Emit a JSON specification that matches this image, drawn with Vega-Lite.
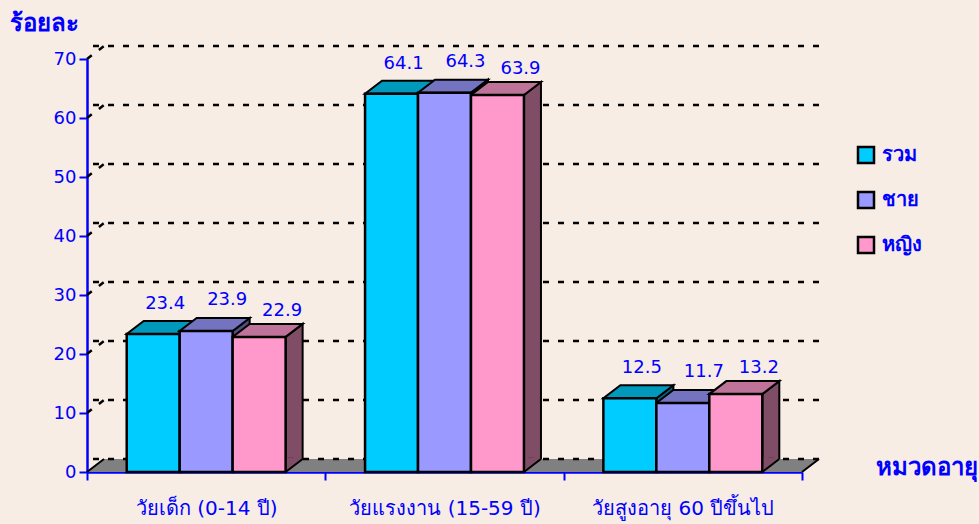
{
  "$schema": "https://vega.github.io/schema/vega-lite/v6.json",
  "width": 715,
  "height": 413,
  "autosize": {"type": "none"},
  "padding": {"left": 87, "top": 59, "right": 177, "bottom": 52},
  "background": "#F7EDE4",
  "config": {
    "view": {"stroke": null},
    "font": "DejaVu Sans",
    "axis": {"labelFont": "DejaVu Sans", "titleFont": "DejaVu Sans"},
    "axisX": {
      "title": "หมวดอายุ",
      "titleAlign": "left",
      "titleBaseline": "middle",
      "titleX": 788,
      "titleY": -5,
      "titleFontSize": 24,
      "titleFontWeight": "bold",
      "titleColor": "#0000FF",
      "labelAngle": 0,
      "labelAlign": "center",
      "labelFontSize": 20,
      "labelColor": "#0000FF",
      "labelPadding": 18,
      "labelLimit": 400,
      "tickBand": "extent",
      "tickSize": 8,
      "tickWidth": 2,
      "tickColor": "#0000FF",
      "domainColor": "#0000FF",
      "domainWidth": 2.5,
      "grid": false
    }
  },
  "datasets": {
    "bars": [
      {"group": "วัยเด็ก (0-14 ปี)", "sex": "รวม", "value": 23.4},
      {"group": "วัยเด็ก (0-14 ปี)", "sex": "ชาย", "value": 23.9},
      {"group": "วัยเด็ก (0-14 ปี)", "sex": "หญิง", "value": 22.9},
      {"group": "วัยแรงงาน (15-59 ปี)", "sex": "รวม", "value": 64.1},
      {"group": "วัยแรงงาน (15-59 ปี)", "sex": "ชาย", "value": 64.3},
      {"group": "วัยแรงงาน (15-59 ปี)", "sex": "หญิง", "value": 63.9},
      {"group": "วัยสูงอายุ 60 ปีขึ้นไป", "sex": "รวม", "value": 12.5},
      {"group": "วัยสูงอายุ 60 ปีขึ้นไป", "sex": "ชาย", "value": 11.7},
      {"group": "วัยสูงอายุ 60 ปีขึ้นไป", "sex": "หญิง", "value": 13.2}
    ],
    "grid": [{"v": 10}, {"v": 20}, {"v": 30}, {"v": 40}, {"v": 50}, {"v": 60}, {"v": 70}]
  },
  "encoding": {
    "y": {
      "type": "quantitative",
      "scale": {"domain": [0, 70], "nice": false, "zero": true},
      "axis": {
        "title": "ร้อยละ",
        "titleAngle": 0,
        "titleAlign": "left",
        "titleBaseline": "middle",
        "titleX": -78,
        "titleY": -36,
        "titleFontSize": 24,
        "titleFontWeight": "bold",
        "titleColor": "#0000FF",
        "values": [0, 10, 20, 30, 40, 50, 60, 70],
        "labelFontSize": 18,
        "labelColor": "#0000FF",
        "labelPadding": 3,
        "tickSize": 8,
        "tickWidth": 2,
        "tickColor": "#0000FF",
        "domainColor": "#0000FF",
        "domainWidth": 2.5,
        "grid": false
      }
    }
  },
  "layer": [
    {
      "data": {"name": "grid"},
      "mark": {
        "type": "rule",
        "color": "#000000",
        "strokeWidth": 2.5,
        "strokeDash": [6, 9],
        "xOffset": 17,
        "x2Offset": 17,
        "yOffset": -13
      },
      "encoding": {"y": {"field": "v", "type": "quantitative"}}
    },
    {
      "data": {"name": "grid"},
      "mark": {
        "type": "point",
        "shape": "M-357.5,0 L-340.5,-13",
        "size": 4,
        "filled": false,
        "stroke": "#000000",
        "strokeWidth": 2.5,
        "strokeDash": [6, 9],
        "opacity": 1
      },
      "encoding": {"y": {"field": "v", "type": "quantitative"}}
    },
    {
      "data": {"name": "bars"},
      "layer": [
        {
          "mark": {
            "type": "point",
            "shape": "M26.5,0 L43.5,-13 L43.5,600 L26.5,600 Z",
            "size": 4,
            "filled": true,
            "stroke": "#000000",
            "strokeWidth": 2,
            "opacity": 1,
            "clip": true
          },
          "encoding": {
            "y": {"field": "value", "type": "quantitative"},
            "fill": {
              "field": "sex",
              "type": "nominal",
              "scale": {"domain": ["รวม", "ชาย", "หญิง"], "range": ["#006680", "#4D4D80", "#804D66"]},
              "legend": null
            }
          }
        }
      ],
      "encoding": {
        "x": {"field": "group", "type": "nominal", "sort": null, "scale": {"paddingInner": 0, "paddingOuter": 0}, "axis": {"title": "หมวดอายุ"}},
        "xOffset": {"field": "sex", "type": "nominal", "sort": ["รวม", "ชาย", "หญิง"], "scale": {"paddingInner": 0, "paddingOuter": 0.75}}
      }
    },
    {
      "data": {"values": [{"z": 0}]},
      "layer": [
        {
          "mark": {
            "type": "point",
            "shape": "M-357.5,0 L357.5,0 L374.5,-13 L-340.5,-13 Z",
            "size": 4,
            "filled": true,
            "fill": "#808080",
            "strokeWidth": 0,
            "opacity": 1
          },
          "encoding": {"y": {"field": "z", "type": "quantitative"}}
        },
        {
          "mark": {
            "type": "point",
            "shape": "M-357.5,0 L-340.5,-13 M357.5,0 L374.5,-13",
            "size": 4,
            "filled": false,
            "stroke": "#000000",
            "strokeWidth": 2,
            "opacity": 1
          },
          "encoding": {"y": {"field": "z", "type": "quantitative"}}
        },
        {
          "mark": {
            "type": "rule",
            "color": "#000000",
            "strokeWidth": 2.5,
            "strokeDash": [6, 9],
            "xOffset": 17,
            "x2Offset": 17,
            "yOffset": -13
          },
          "encoding": {"y": {"field": "z", "type": "quantitative"}}
        }
      ]
    },
    {
      "data": {"name": "bars"},
      "layer": [
        {
          "mark": {
            "type": "point",
            "shape": "M25,1 L25,-14.5 L42.5,-14.5 L42.5,-13 L26.5,0 Z",
            "size": 4,
            "filled": true,
            "strokeWidth": 0,
            "opacity": 1
          },
          "encoding": {
            "y": {"datum": 0},
            "fill": {
              "field": "sex",
              "type": "nominal",
              "scale": {"domain": ["รวม", "ชาย", "หญิง"], "range": ["#006680", "#4D4D80", "#804D66"]},
              "legend": null
            }
          }
        },
        {
          "mark": {
            "type": "point",
            "shape": "M26.5,0 L43.5,-13",
            "size": 4,
            "filled": false,
            "stroke": "#000000",
            "strokeWidth": 2,
            "opacity": 1
          },
          "encoding": {"y": {"datum": 0}}
        },
        {
          "mark": {
            "type": "point",
            "shape": "M-26.5,0 L26.5,0 L43.5,-13 L-9.5,-13 Z",
            "size": 4,
            "filled": true,
            "stroke": "#000000",
            "strokeWidth": 2,
            "opacity": 1
          },
          "encoding": {
            "y": {"field": "value", "type": "quantitative"},
            "fill": {
              "field": "sex",
              "type": "nominal",
              "scale": {"domain": ["รวม", "ชาย", "หญิง"], "range": ["#0099BB", "#7373BF", "#BF7399"]},
              "legend": null
            }
          }
        },
        {
          "mark": {"type": "bar", "stroke": "#000000", "strokeWidth": 2.5, "opacity": 1},
          "encoding": {
            "y": {"field": "value", "type": "quantitative"},
            "color": {
              "field": "sex",
              "type": "nominal",
              "scale": {"domain": ["รวม", "ชาย", "หญิง"], "range": ["#00CCFF", "#9999FF", "#FF99CC"]},
              "legend": {
                "title": null,
                "orient": "none",
                "legendX": 769,
                "legendY": 86,
                "symbolType": "square",
                "symbolSize": 256,
                "symbolStrokeColor": "#000000",
                "symbolStrokeWidth": 2.5,
                "symbolOpacity": 1,
                "labelFontSize": 20,
                "labelFontWeight": "bold",
                "labelColor": "#0000FF",
                "labelOffset": 6,
                "rowPadding": 19
              }
            }
          }
        },
        {
          "transform": [{"filter": "datum.sex == 'รวม'"}],
          "mark": {"type": "text", "fontSize": 18, "color": "#0000FF", "dx": 12, "dy": -25, "baseline": "alphabetic"},
          "encoding": {"y": {"field": "value", "type": "quantitative"}, "text": {"field": "value", "type": "quantitative", "format": ".1f"}}
        },
        {
          "transform": [{"filter": "datum.sex == 'ชาย'"}],
          "mark": {"type": "text", "fontSize": 18, "color": "#0000FF", "dx": 21, "dy": -26, "baseline": "alphabetic"},
          "encoding": {"y": {"field": "value", "type": "quantitative"}, "text": {"field": "value", "type": "quantitative", "format": ".1f"}}
        },
        {
          "transform": [{"filter": "datum.sex == 'หญิง'"}],
          "mark": {"type": "text", "fontSize": 18, "color": "#0000FF", "dx": 23, "dy": -21, "baseline": "alphabetic"},
          "encoding": {"y": {"field": "value", "type": "quantitative"}, "text": {"field": "value", "type": "quantitative", "format": ".1f"}}
        }
      ],
      "encoding": {
        "x": {
          "field": "group",
          "type": "nominal",
          "sort": null,
          "scale": {"paddingInner": 0, "paddingOuter": 0},
          "axis": {"title": "หมวดอายุ"}
        },
        "xOffset": {
          "field": "sex",
          "type": "nominal",
          "sort": ["รวม", "ชาย", "หญิง"],
          "scale": {"paddingInner": 0, "paddingOuter": 0.75}
        }
      },
      "resolve": {"scale": {"fill": "independent"}}
    }
  ],
  "resolve": {"scale": {"fill": "independent"}}
}
